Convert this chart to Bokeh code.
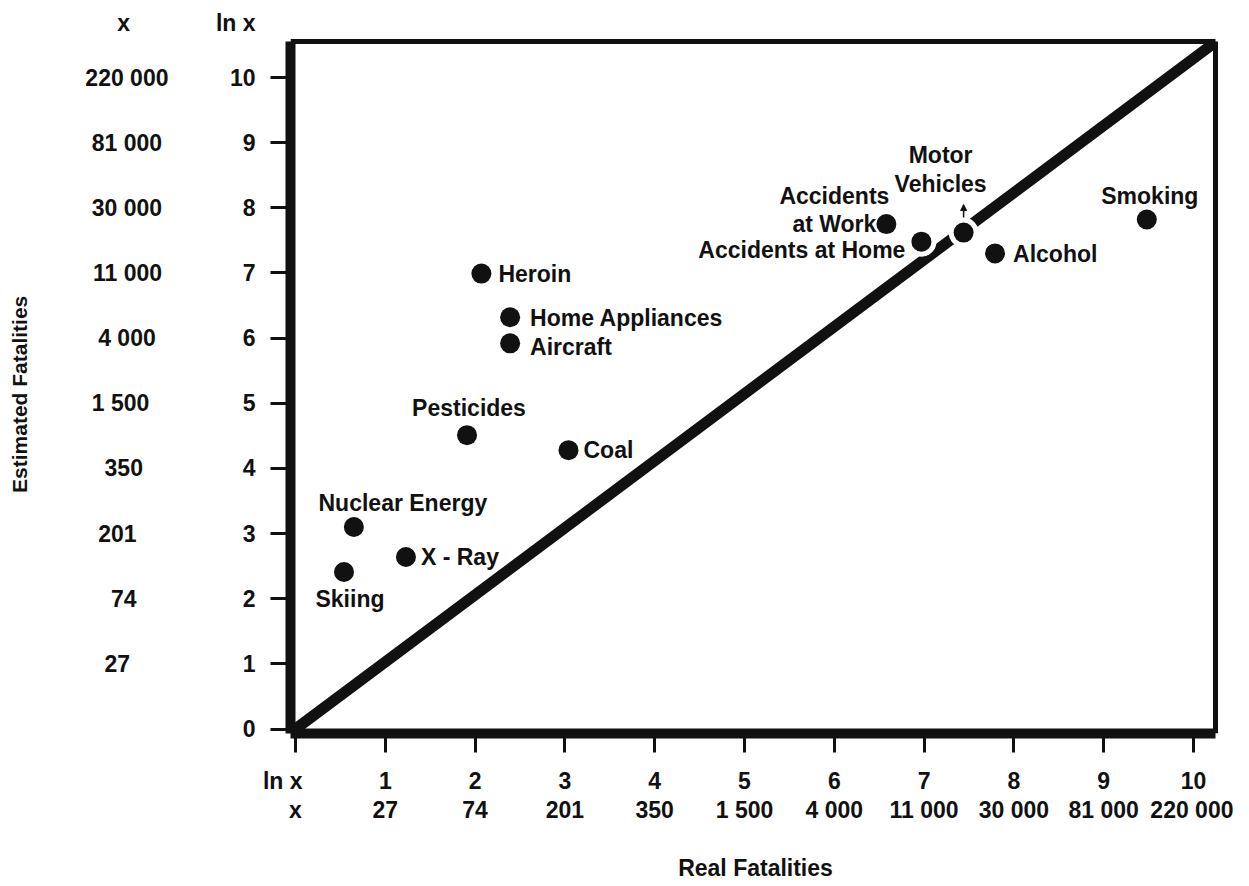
from bokeh.plotting import figure
from bokeh.models import (ColumnDataSource, FixedTicker, LinearAxis, Range1d, Arrow, NormalHead)
from bokeh.core.properties import value
from bokeh.embed import file_html
from bokeh.resources import INLINE

# ---------------- data ----------------
hazards = ["Skiing", "Nuclear Energy", "X - Ray", "Pesticides", "Coal", "Heroin",
           "Home Appliances", "Aircraft", "Accidents\nat Work", "Accidents at Home",
           "Motor\nVehicles", "Alcohol", "Smoking"]
real_ln = [0.54, 0.65, 1.23, 1.91, 3.04, 2.07, 2.39, 2.39, 6.58, 6.97, 7.44, 7.79, 9.48]
estimated_ln = [2.41, 3.10, 2.64, 4.51, 4.28, 6.99, 6.32, 5.92, 7.75, 7.48, 7.62, 7.30, 7.82]

ln_ticks = [0, 1, 2, 3, 4, 5, 6, 7, 8, 9, 10]
x_values = ["x", "27", "74", "201", "350", "1 500", "4 000", "11 000", "30 000", "81 000", "220 000"]
y_values = ["27", "74", "201", "350", "1 500", "4 000", "11 000", "30 000", "81 000", "220 000"]

# ---------------- layout ----------------
# label offsets in px (dx, dy, align) relative to each point
label_layout = {
    "Skiing": (6, 27, "center"),
    "Nuclear Energy": (49, -24, "center"),
    "X - Ray": (15, 0, "left"),
    "Pesticides": (2, -27, "center"),
    "Coal": (15, 0, "left"),
    "Heroin": (17, 0, "left"),
    "Home Appliances": (20, 1, "left"),
    "Aircraft": (20, 4, "left"),
    "Accidents\nat Work": (-52, -14, "center"),
    "Accidents at Home": (-16, 8, "right"),
    "Motor\nVehicles": (-23, -63, "center"),
    "Alcohol": (18, 1, "left"),
    "Smoking": (3, -24, "center"),
}
# non-breaking-space padding that visually centres right-aligned / centred axis texts
NBSP = "\u00a0"
outer_pad = {"x": 6, "27": 6, "74": 5, "201": 5, "350": 4, "1 500": 3, "4 000": 2,
             "11 000": 1, "30 000": 1, "81 000": 1, "220 000": 0}
ln_header_pad = 4
ytitle_pad = 8

FONT_NAME = "Liberation Sans"
FONT = value(FONT_NAME)
FS = "23px"
INK = "#111111"

# pixel -> data helpers (canvas coordinates) for frame layout
X0, XS = 295.0, 89.8
Y0, YS = 728.5, 65.15
def px2x(px):
    return (px - X0) / XS
def px2y(py):
    return (Y0 - py) / YS

x_range = Range1d(px2x(290), px2x(1220))
y_range = Range1d(px2y(733), px2y(8))
box_right = px2x(1215)
box_top = px2y(41)
header_y = round(px2y(22), 2)

p = figure(frame_width=930, frame_height=725,
           min_border_left=290, min_border_right=13, min_border_top=8, min_border_bottom=137,
           x_range=x_range, y_range=y_range,
           output_backend="svg", toolbar_location=None,
           background_fill_color="white", border_fill_color="white")
p.grid.visible = False
p.outline_line_color = None

def style_axis(ax, size=FS):
    ax.major_label_text_font = FONT_NAME
    ax.major_label_text_font_style = "bold"
    ax.major_label_text_font_size = size
    ax.major_label_text_color = INK
    ax.minor_tick_line_color = None
    ax.axis_label_text_font = FONT_NAME
    ax.axis_label_text_font_style = "bold"
    ax.axis_label_text_color = INK

# y axis 1: thick line + tick marks only
ya = p.yaxis[0]
ya.ticker = FixedTicker(ticks=ln_ticks)
ya.bounds = (y_range.start, box_top)
ya.major_label_overrides = {t: "" for t in ln_ticks}
ya.axis_line_width = 10
ya.axis_line_color = INK
ya.major_tick_out = 20
ya.major_tick_in = 0
ya.major_tick_line_width = 3
ya.major_tick_line_color = INK
ya.major_label_standoff = 0
style_axis(ya)

# y axis 2: ln x labels
ya2 = LinearAxis(ticker=FixedTicker(ticks=ln_ticks + [header_y]))
ya2.major_label_overrides = {**{t: str(t) for t in ln_ticks}, header_y: "ln x"}
ya2.axis_line_color = None
ya2.major_tick_line_color = None
ya2.major_tick_out = 0
ya2.major_tick_in = 0
ya2.major_label_standoff = 15
style_axis(ya2)
p.add_layout(ya2, "left")

# y axis 3: x values
ya3 = LinearAxis(ticker=FixedTicker(ticks=ln_ticks[1:] + [header_y]),
                 axis_label="Estimated Fatalities" + NBSP * ytitle_pad)
ya3.major_label_overrides = {**{t: v + NBSP * outer_pad[v] for t, v in zip(ln_ticks[1:], y_values)},
                             header_y: "x" + NBSP * outer_pad["x"]}
ya3.axis_line_color = None
ya3.major_tick_line_color = None
ya3.major_tick_out = 0
ya3.major_tick_in = 0
ya3.major_label_standoff = 44
ya3.axis_label_standoff = 51
ya3.axis_label_text_font_size = "21px"
style_axis(ya3)
p.add_layout(ya3, "left")

# x axis 1: thick line, ticks, ln x labels
xa = p.xaxis[0]
xa.ticker = FixedTicker(ticks=ln_ticks)
xa.bounds = (x_range.start, box_right)
xa.major_label_overrides = {0: "ln x" + NBSP * ln_header_pad}
xa.axis_line_width = 10
xa.axis_line_color = INK
xa.major_tick_out = 19
xa.major_tick_in = 0
xa.major_tick_line_width = 3
xa.major_tick_line_color = INK
xa.major_label_standoff = 15
style_axis(xa)

# x axis 2: x values + title
xa2 = LinearAxis(ticker=FixedTicker(ticks=ln_ticks),
                 major_label_overrides={t: v for t, v in zip(ln_ticks, x_values)},
                 axis_label="Real Fatalities")
xa2.axis_line_color = None
xa2.major_tick_line_color = None
xa2.major_tick_out = 0
xa2.major_tick_in = 0
xa2.major_label_standoff = 0
xa2.axis_label_standoff = 29
xa2.axis_label_text_font_size = FS
style_axis(xa2)
p.add_layout(xa2, "below")

# top and right edges of the box
p.segment(x0=[x_range.start, box_right], y0=[box_top, box_top],
          x1=[box_right, box_right], y1=[box_top, y_range.start],
          line_width=5, line_color=INK)

# diagonal reference line from the origin to the box's top-right corner
p.line([0, box_right - 0.02], [0, box_top - 0.03], line_width=11, line_color=INK)

# points
p.scatter(real_ln, estimated_ln, size=30, fill_color="white", line_color=None)
p.scatter(real_ln, estimated_ln, size=20, fill_color=INK, line_color=None)

# arrow above Motor Vehicles
mv = hazards.index("Motor\nVehicles")
p.add_layout(Arrow(end=NormalHead(size=6, fill_color=INK, line_color=INK),
                   x_start=real_ln[mv], y_start=estimated_ln[mv] + 15 / YS,
                   x_end=real_ln[mv], y_end=estimated_ln[mv] + 28 / YS,
                   line_width=1.5, line_color=INK))

# point labels
for align in ("left", "center", "right"):
    idx = [i for i, h in enumerate(hazards) if label_layout[h][2] == align]
    src = ColumnDataSource(dict(
        x=[real_ln[i] for i in idx], y=[estimated_ln[i] for i in idx],
        t=[hazards[i] for i in idx],
        dx=[label_layout[hazards[i]][0] for i in idx],
        dy=[label_layout[hazards[i]][1] for i in idx]))
    p.text(x="x", y="y", text="t", x_offset="dx", y_offset="dy", source=src,
           text_align=align, text_baseline="middle", text_font=FONT,
           text_font_style="bold", text_font_size=FS, text_color=INK,
           text_line_height=1.1)

open("out.html", "w").write(file_html(p, INLINE))
